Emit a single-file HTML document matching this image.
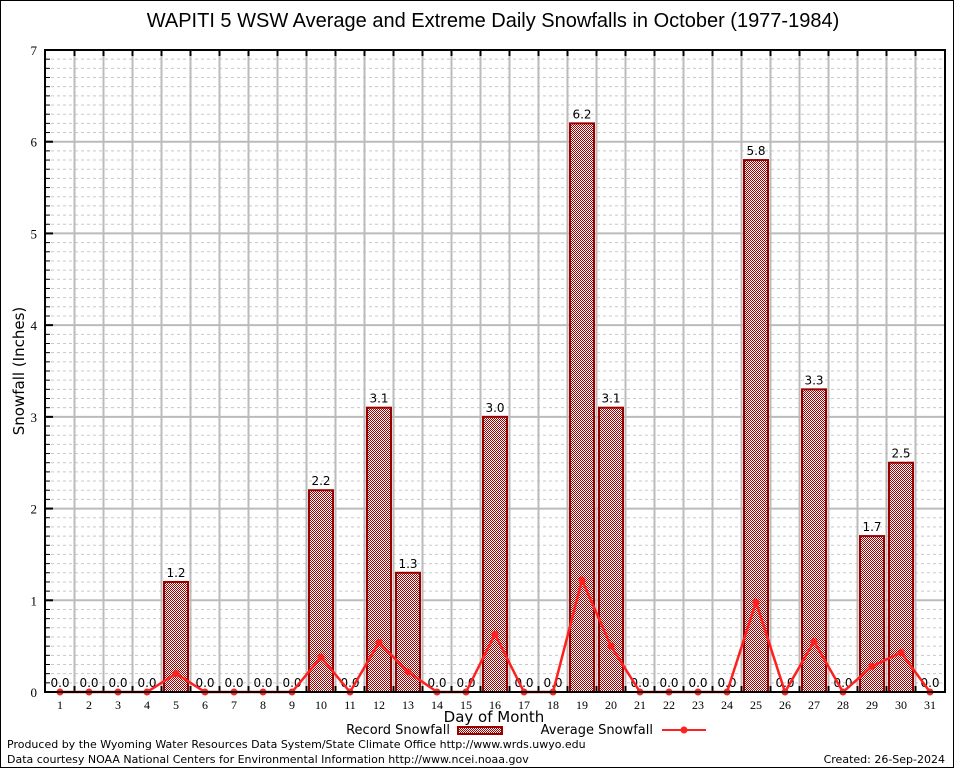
<!DOCTYPE html>
<html><head><meta charset="utf-8"><style>
html,body{margin:0;padding:0;background:#fff}
svg{display:block;font-family:"DejaVu Sans","Liberation Sans",sans-serif}
</style></head><body>
<svg id="s" width="954" height="768" xmlns="http://www.w3.org/2000/svg">
<defs>
<pattern id="p" width="2" height="2" patternUnits="userSpaceOnUse">
<rect width="2" height="2" fill="#fff"/><rect width="1" height="1" fill="#a00000"/><rect x="1" y="1" width="1" height="1" fill="#a00000"/>
</pattern>
</defs>
<rect x="0.5" y="0.5" width="953" height="767" fill="#fff" stroke="#000"/>
<g id="g"></g>
<text x="493" y="27" font-size="20" text-anchor="middle" font-family="Liberation Sans, sans-serif">WAPITI 5 WSW Average and Extreme Daily Snowfalls in October (1977-1984)</text>
<text x="24" y="371" font-size="15" text-anchor="middle" transform="rotate(-90 24 371)">Snowfall (Inches)</text>
<text x="494" y="722" font-size="15" text-anchor="middle">Day of Month</text>
<text x="450" y="734" font-size="13" text-anchor="end">Record Snowfall</text>
<rect x="458" y="727" width="44" height="7" fill="url(#p)" stroke="#990000" stroke-width="2"/>
<text x="653" y="734" font-size="13" text-anchor="end">Average Snowfall</text>
<line x1="662" y1="730" x2="706" y2="730" stroke="#ff2020" stroke-width="2"/>
<circle cx="684" cy="730" r="3.5" fill="#ff2020"/>
<text x="7" y="748" font-size="11">Produced by the Wyoming Water Resources Data System/State Climate Office http://www.wrds.uwyo.edu</text>
<text x="7" y="763" font-size="11">Data courtesy NOAA National Centers for Environmental Information http://www.ncei.noaa.gov</text>
<text x="945" y="763" font-size="11" text-anchor="end">Created:  26-Sep-2024</text>
</svg>
<script>
var g=document.getElementById('g'),h='';
var L=45,R=945,T=50,B=692,k=(B-T)/7;
function X(d){return 60+(d-1)*29;}
function Y(v){return B-v*k;}
for(var i=1;i<70;i++){if(i%10==0)continue;var y=Y(i/10);h+='<line x1="'+L+'" x2="'+R+'" y1="'+y+'" y2="'+y+'" stroke="#c8c8c8" stroke-dasharray="3,3" stroke-width="1"/>';h+='<line x1="'+L+'" x2="'+(L+5)+'" y1="'+y+'" y2="'+y+'" stroke="#000"/>';}
for(var i=1;i<7;i++){var y=Y(i);h+='<line x1="'+L+'" x2="'+R+'" y1="'+y+'" y2="'+y+'" stroke="#bbb" stroke-width="2"/>';h+='<line x1="'+L+'" x2="'+(L+8)+'" y1="'+y+'" y2="'+y+'" stroke="#000" stroke-width="2"/>';}
for(var d=1;d<31;d++){var x=X(d)+14.5;h+='<line x1="'+x+'" x2="'+x+'" y1="'+T+'" y2="'+B+'" stroke="#bbb" stroke-width="2"/>';h+='<line x1="'+x+'" x2="'+x+'" y1="'+T+'" y2="'+(T+6)+'" stroke="#000" stroke-width="2"/><line x1="'+x+'" x2="'+x+'" y1="'+(B-6)+'" y2="'+B+'" stroke="#000" stroke-width="2"/>';}
for(var i=0;i<=7;i++){h+='<text x="37" y="'+(Y(i)+5)+'" font-size="13" text-anchor="end" font-family="Liberation Serif,serif">'+i+'</text>';}
for(var d=1;d<=31;d++){h+='<text x="'+X(d)+'" y="'+(B+17)+'" font-size="12" text-anchor="middle" font-family="Liberation Serif,serif">'+d+'</text>';}
var rec={5:1.2,10:2.2,12:3.1,13:1.3,16:3.0,19:6.2,20:3.1,25:5.8,27:3.3,29:1.7,30:2.5};
var avg={5:0.2,10:0.38,12:0.54,13:0.22,16:0.63,19:1.22,20:0.5,25:0.98,27:0.55,29:0.28,30:0.43};
for(var d=1;d<=31;d++){var v=rec[d]||0;if(v>0){h+='<rect x="'+(X(d)-12)+'" y="'+Y(v)+'" width="24" height="'+(v*k)+'" fill="url(#p)" stroke="#990000" stroke-width="2"/>';}
h+='<text x="'+X(d)+'" y="'+(Y(v)-5)+'" font-size="12" text-anchor="middle">'+v.toFixed(1)+'</text>';}
var pts=[];for(var d=1;d<=31;d++){pts.push(X(d)+','+Y(avg[d]||0));}
h+='<polyline points="'+pts.join(' ')+'" fill="none" stroke="#ff2020" stroke-width="2.5"/>';
for(var d=1;d<=31;d++){h+='<circle cx="'+X(d)+'" cy="'+Y(avg[d]||0)+'" r="3.5" fill="#ff2020"/>';}
h+='<rect x="'+L+'" y="'+T+'" width="'+(R-L)+'" height="'+(B-T)+'" fill="none" stroke="#000" stroke-width="2"/>';
g.innerHTML=h;
</script>
</body></html>
